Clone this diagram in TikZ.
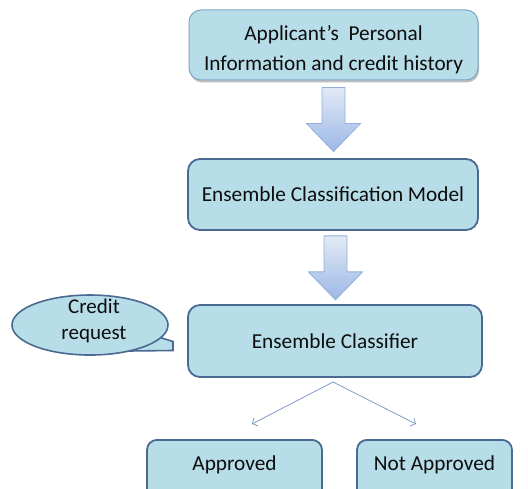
\documentclass[tikz,border=0pt]{standalone}
\usepackage{fontspec}
\setmainfont{Carlito}
\usetikzlibrary{arrows.meta,calc,shadows}

\definecolor{boxfill}{HTML}{B7DDE8}
\definecolor{boxline}{HTML}{4A6A92}
\definecolor{softline}{HTML}{7FA6C6}
\definecolor{arrowtop}{HTML}{E2EAF6}
\definecolor{arrowbot}{HTML}{9BB8E6}
\definecolor{arrowline}{HTML}{94AEDA}
\definecolor{thinline}{HTML}{7E9CC2}
\definecolor{txt}{HTML}{0D0D0D}

\tikzset{
  x=1pt, y=1pt,
  stage/.style={draw=boxline, line width=1.8pt, fill=boxfill, rounded corners=12pt,
    font=\fontsize{21.3}{29}\selectfont, text=txt, align=center, inner sep=0pt},
  inputbox/.style={stage, draw=softline, line width=1pt,
    drop shadow={shadow xshift=1pt, shadow yshift=-2.5pt, opacity=0.25, fill=black}},
  outcome/.style={stage, rounded corners=10pt, text height=14pt, text depth=14pt},
  branch/.style={draw=thinline, line width=0.8pt, -{Straight Barb[length=4pt,width=9pt]}},
  callout/.style={draw=boxline, line width=1.6pt, fill=boxfill},
  calloutText/.style={font=\fontsize{21}{26}\selectfont, text=txt, align=center},
  blockarrow/.pic={
    \path[draw=arrowline, line width=0.8pt, top color=arrowtop, bottom color=arrowbot]
      (-11.5,0) -- (11.5,0) -- (11.5,-36) -- (27,-36) -- (0,-64)
      -- (-27,-36) -- (-11.5,-36) -- cycle;
  }
}

\begin{document}
\begin{tikzpicture}
\useasboundingbox (0,0) rectangle (528,488);
\clip (0,0) rectangle (528,488);

% main pipeline
\node[inputbox, minimum width=289pt, minimum height=70pt] (input) at (333.5,443)
  {\rule{0pt}{25pt}Applicant’s\hspace{0.45em}Personal\\[1pt]Information and credit history};
\node[stage, minimum width=290pt, minimum height=71pt] (model) at (333,293.5)
  {Ensemble Classification Model};
\node[stage, minimum width=294pt, minimum height=72pt] (clf) at (335,147)
  {Ensemble Classifier};

% block arrows between the stages
\pic at ($(input.south)+(0,-7)$) {blockarrow};
\pic at ($(model.south)+(2.5,-5)$) {blockarrow};

% speech bubble feeding the classifier
\path[callout] (129,137) arc[start angle=-60, end angle=335, x radius=78, y radius=30]
  .. controls (166,148) .. (173,146.5) -- (173,137.5) -- cycle;
\node[calloutText] (req) at (94,167) {Credit\\request};

% decisions, running past the lower edge
\node[outcome, minimum width=175pt, minimum height=62pt, anchor=north] (yes) at (234.5,49)
  {Approved};
\node[outcome, minimum width=155pt, minimum height=62pt, anchor=north] (no) at (434.5,49)
  {Not Approved};

% split of the classifier output
\coordinate (split) at (333,106);
\coordinate (toyes) at (252,64);
\coordinate (tono) at (416,64);
\draw[branch] (split) -- (toyes);
\draw[branch] (split) -- (tono);
\end{tikzpicture}
\end{document}
